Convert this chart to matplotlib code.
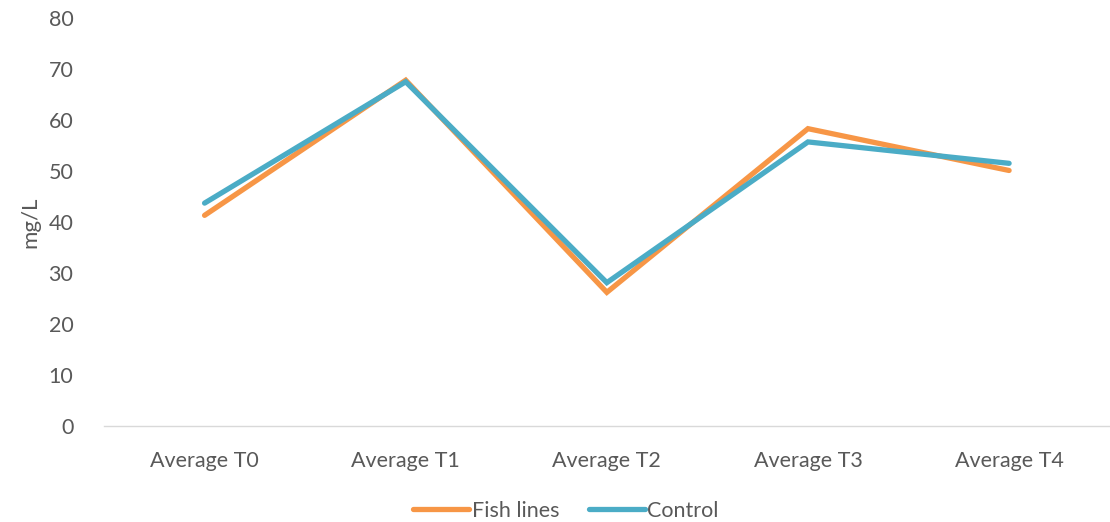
import matplotlib.pyplot as plt

plt.rcParams['font.family'] = ['Lato', 'DejaVu Sans']

labels = ['Average T0', 'Average T1', 'Average T2', 'Average T3', 'Average T4']
fish = [41.3, 67.8, 26.2, 58.3, 50.1]
control = [43.7, 67.5, 28.1, 55.7, 51.5]

grey = '#595959'

fig = plt.figure(figsize=(11.1, 5.22), dpi=100)
ax = fig.add_axes([0.0937, 0.184, 0.906, 0.7815])

x = range(len(labels))
ax.plot(x, fish, color='#F79646', lw=3.8, solid_capstyle='round', solid_joinstyle='miter', label='Fish lines')
ax.plot(x, control, color='#4BACC6', lw=3.8, solid_capstyle='round', solid_joinstyle='miter', label='Control')

ax.set_xlim(-0.5, len(labels) - 0.5)
ax.set_ylim(0, 80)
ax.set_yticks(range(0, 81, 10))
ax.set_xticks(list(x))
ax.set_xticklabels(labels)
ax.tick_params(length=0, labelsize=15.5, colors=grey)
ax.tick_params(axis='y', pad=22)
ax.tick_params(axis='x', pad=18)

for s in ['top', 'right', 'left']:
    ax.spines[s].set_visible(False)
ax.spines['bottom'].set_color('#d9d9d9')
ax.spines['bottom'].set_linewidth(1)

ax.set_ylabel('mg/L', fontsize=16, color=grey, labelpad=6)

leg = fig.legend(loc='lower center', bbox_to_anchor=(0.51, -0.035), ncol=2, frameon=False,
                 fontsize=15.5, handlelength=2.6, handletextpad=0.1, columnspacing=1.4)
for t in leg.get_texts():
    t.set_color(grey)

fig.savefig('out.png', dpi=100)
